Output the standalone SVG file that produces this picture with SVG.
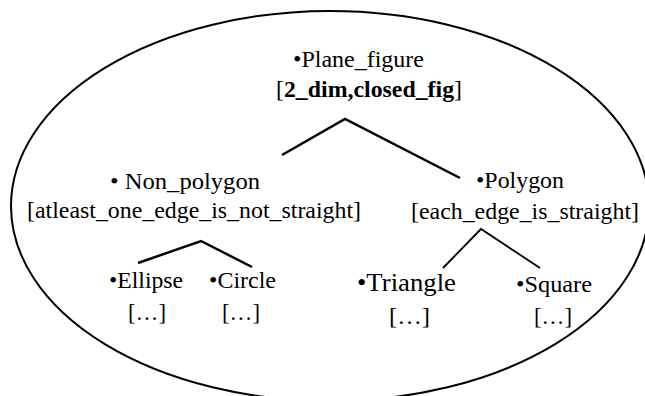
<svg xmlns="http://www.w3.org/2000/svg" width="645" height="396" viewBox="0 0 645 396">
<style>
text{font-family:'Liberation Serif','DejaVu Serif',serif;font-size:24px;fill:#000}
.b{font-weight:bold}
.t{font-size:26px}
.c{fill:none;stroke:#000;stroke-linecap:butt;stroke-linejoin:miter}
</style>
<rect width="645" height="396" fill="#fff"/>
<ellipse id="boundary" cx="330" cy="206" rx="319" ry="195" fill="none" stroke="#000" stroke-width="2"/>
<g id="connectors">
<polyline class="c" stroke-width="2.5" points="282,155 345,119 460,178"/>
<polyline class="c" stroke-width="2.5" points="138,263 201,241 252,267"/>
<polyline class="c" stroke-width="1.8" points="443,268 481,229 540,268"/>
</g>
<g id="plane_figure">
<text x="293" y="67" textLength="131" lengthAdjust="spacingAndGlyphs">•Plane_figure</text>
<text x="276" y="97" textLength="186" lengthAdjust="spacingAndGlyphs">[<tspan class="b">2_dim,closed_fig</tspan>]</text>
</g>
<g id="non_polygon">
<text x="110" y="189" textLength="150" lengthAdjust="spacingAndGlyphs">• Non_polygon</text>
<text x="27" y="218" textLength="334" lengthAdjust="spacingAndGlyphs">[atleast_one_edge_is_not_straight]</text>
</g>
<g id="polygon">
<text x="476" y="188" textLength="88" lengthAdjust="spacingAndGlyphs">•Polygon</text>
<text x="411" y="219" textLength="228" lengthAdjust="spacingAndGlyphs">[each_edge_is_straight]</text>
</g>
<g id="ellipse">
<text x="109" y="288" textLength="74" lengthAdjust="spacingAndGlyphs">•Ellipse</text>
<text x="128" y="320" textLength="38" lengthAdjust="spacingAndGlyphs">[…]</text>
</g>
<g id="circle">
<text x="209" y="288" textLength="67" lengthAdjust="spacingAndGlyphs">•Circle</text>
<text x="222" y="320" textLength="38" lengthAdjust="spacingAndGlyphs">[…]</text>
</g>
<g id="triangle">
<text class="t" x="357" y="291" textLength="99" lengthAdjust="spacingAndGlyphs">•Triangle</text>
<text x="389" y="324" textLength="41" lengthAdjust="spacingAndGlyphs">[…]</text>
</g>
<g id="square">
<text x="516" y="292" textLength="76" lengthAdjust="spacingAndGlyphs">•Square</text>
<text x="534" y="324" textLength="38" lengthAdjust="spacingAndGlyphs">[…]</text>
</g>
</svg>
